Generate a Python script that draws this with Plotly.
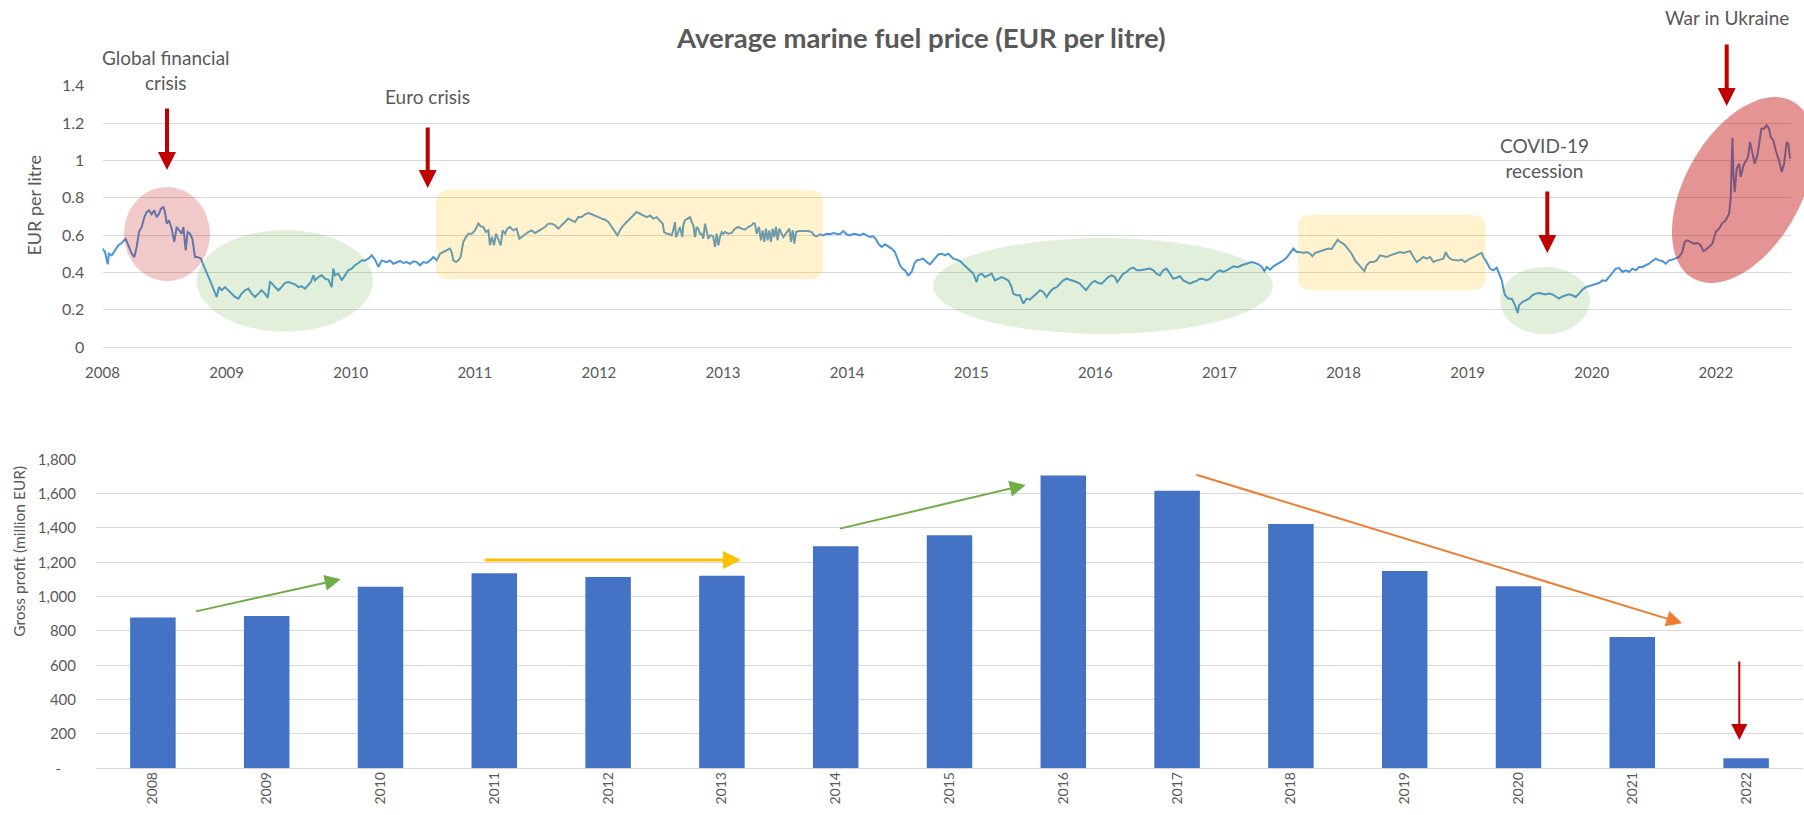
import math
import plotly.graph_objects as go

W, H = 1804, 815

# ---------------- data ----------------
fuel_year = [
    2008.000, 2008.022, 2008.045, 2008.056, 2008.080, 2008.109, 2008.138, 2008.167, 2008.201, 2008.225,
    2008.254, 2008.277, 2008.297, 2008.317, 2008.341, 2008.364, 2008.384, 2008.404, 2008.427, 2008.450,
    2008.471, 2008.491, 2008.508, 2008.529, 2008.543, 2008.558, 2008.578, 2008.601, 2008.624, 2008.645,
    2008.665, 2008.688, 2008.703, 2008.723, 2008.740, 2008.761, 2008.781, 2008.804, 2008.827, 2008.856,
    2008.877, 2008.905, 2008.934, 2008.963, 2008.992, 2009.013, 2009.036, 2009.065, 2009.094, 2009.123,
    2009.152, 2009.181, 2009.210, 2009.239, 2009.268, 2009.297, 2009.326, 2009.355, 2009.383, 2009.412,
    2009.436, 2009.456, 2009.476, 2009.499, 2009.528, 2009.557, 2009.586, 2009.615, 2009.644, 2009.673,
    2009.702, 2009.731, 2009.760, 2009.789, 2009.812, 2009.833, 2009.847, 2009.876, 2009.905, 2009.934,
    2009.963, 2009.992, 2010.006, 2010.021, 2010.050, 2010.079, 2010.108, 2010.137, 2010.166, 2010.195,
    2010.224, 2010.253, 2010.282, 2010.311, 2010.340, 2010.369, 2010.398, 2010.427,
    2010.470, 2010.499, 2010.528, 2010.557, 2010.586, 2010.615, 2010.644, 2010.673, 2010.702, 2010.731,
    2010.760, 2010.789, 2010.818, 2010.847, 2010.876, 2010.905, 2010.934, 2010.962, 2010.991, 2011.020,
    2011.035, 2011.049, 2011.073, 2011.093, 2011.113, 2011.136, 2011.159, 2011.180, 2011.209, 2011.238,
    2011.267, 2011.287, 2011.310, 2011.333, 2011.354, 2011.368, 2011.385, 2011.403, 2011.420, 2011.441,
    2011.461, 2011.478, 2011.499, 2011.519, 2011.542, 2011.571, 2011.600, 2011.623, 2011.643, 2011.672,
    2011.701, 2011.730, 2011.759, 2011.788, 2011.817, 2011.846, 2011.875, 2011.904, 2011.933, 2011.962,
    2011.991, 2012.020, 2012.049, 2012.078, 2012.107, 2012.136, 2012.165, 2012.194, 2012.223, 2012.252,
    2012.281, 2012.310, 2012.339, 2012.368, 2012.397, 2012.426, 2012.455, 2012.475, 2012.498, 2012.527,
    2012.556, 2012.585, 2012.614, 2012.643, 2012.672, 2012.701, 2012.730, 2012.759, 2012.788, 2012.817,
    2012.846, 2012.869, 2012.881, 2012.904,
    2012.918, 2012.947, 2012.961, 2012.976, 2012.985, 2012.999, 2013.019, 2013.040, 2013.048, 2013.063,
    2013.086, 2013.106, 2013.121, 2013.135, 2013.150, 2013.164, 2013.179, 2013.193, 2013.208, 2013.222,
    2013.237, 2013.251, 2013.266, 2013.280, 2013.295, 2013.309, 2013.324, 2013.338, 2013.353, 2013.367,
    2013.382, 2013.396, 2013.411, 2013.440, 2013.468, 2013.497, 2013.526, 2013.555, 2013.584, 2013.613,
    2013.642, 2013.657, 2013.671, 2013.686, 2013.706, 2013.723, 2013.738, 2013.752, 2013.767, 2013.781,
    2013.796, 2013.810, 2013.825, 2013.839, 2013.854, 2013.868, 2013.883, 2013.903, 2013.918, 2013.938,
    2013.955, 2013.970, 2013.984, 2013.999, 2014.013, 2014.028, 2014.048, 2014.077, 2014.106, 2014.135,
    2014.164, 2014.187, 2014.207, 2014.236, 2014.265, 2014.294, 2014.323, 2014.352, 2014.381, 2014.410,
    2014.439, 2014.468, 2014.497, 2014.526, 2014.555, 2014.584, 2014.613, 2014.642, 2014.671, 2014.700,
    2014.720, 2014.743, 2014.772, 2014.801, 2014.830, 2014.859, 2014.888, 2014.911, 2014.932, 2014.952,
    2014.975, 2015.004, 2015.033, 2015.056, 2015.077, 2015.106, 2015.134, 2015.163, 2015.192, 2015.221,
    2015.242, 2015.265, 2015.294, 2015.323, 2015.352, 2015.381,
    2015.395, 2015.424, 2015.453, 2015.482, 2015.511, 2015.540, 2015.569, 2015.598, 2015.612, 2015.641,
    2015.670, 2015.699, 2015.728, 2015.757, 2015.786, 2015.815, 2015.844, 2015.873, 2015.902, 2015.916,
    2015.945, 2015.974, 2016.003, 2016.032, 2016.061, 2016.090, 2016.119, 2016.148, 2016.177, 2016.206,
    2016.235, 2016.264, 2016.293, 2016.322, 2016.351, 2016.380, 2016.409, 2016.438, 2016.467, 2016.496,
    2016.525, 2016.548, 2016.568, 2016.597, 2016.626, 2016.655, 2016.684, 2016.713, 2016.742, 2016.771,
    2016.800, 2016.820, 2016.844, 2016.873, 2016.902, 2016.931, 2016.960, 2016.989, 2017.018, 2017.046,
    2017.075, 2017.104, 2017.133, 2017.162, 2017.191, 2017.220, 2017.249, 2017.278, 2017.307, 2017.336,
    2017.365, 2017.394, 2017.423, 2017.452, 2017.481, 2017.510, 2017.539, 2017.568, 2017.597, 2017.626,
    2017.655, 2017.684, 2017.713, 2017.742, 2017.771, 2017.800, 2017.829, 2017.858,
    2017.873, 2017.902, 2017.931, 2017.960, 2017.989, 2018.018, 2018.047, 2018.076, 2018.099, 2018.119,
    2018.148, 2018.177, 2018.206, 2018.235, 2018.264, 2018.293, 2018.322, 2018.351, 2018.380, 2018.409,
    2018.438, 2018.467, 2018.496, 2018.516, 2018.539, 2018.568, 2018.597, 2018.626, 2018.655, 2018.684,
    2018.713, 2018.736, 2018.757, 2018.777, 2018.800, 2018.829, 2018.858, 2018.887, 2018.916, 2018.945,
    2018.968, 2018.988, 2019.017, 2019.046, 2019.075, 2019.104, 2019.133, 2019.162, 2019.191, 2019.220,
    2019.249, 2019.278, 2019.307, 2019.336, 2019.365, 2019.394, 2019.423, 2019.452, 2019.481, 2019.510,
    2019.539, 2019.568, 2019.597, 2019.626, 2019.655, 2019.675, 2019.698, 2019.727, 2019.756, 2019.785,
    2019.814, 2019.843, 2019.872, 2019.901, 2019.930, 2019.959, 2019.988, 2020.002, 2020.031, 2020.060,
    2020.089, 2020.118, 2020.139, 2020.162, 2020.176, 2020.191, 2020.220, 2020.249, 2020.278, 2020.301,
    2020.312, 2020.341, 2020.370, 2020.399, 2020.428, 2020.457, 2020.486, 2020.515, 2020.544, 2020.573,
    2020.602, 2020.631, 2020.660, 2020.689, 2020.718, 2020.747, 2020.776, 2020.805, 2020.834, 2020.863,
    2020.892, 2020.921, 2020.950, 2020.979, 2021.008, 2021.037, 2021.066, 2021.095, 2021.124, 2021.153,
    2021.182, 2021.211, 2021.240, 2021.269, 2021.298, 2021.327, 2021.356, 2021.385, 2021.413, 2021.442,
    2021.471, 2021.500, 2021.529, 2021.558, 2021.587, 2021.616, 2021.645, 2021.674, 2021.703, 2021.732,
    2021.752, 2021.775, 2021.804, 2021.833, 2021.862, 2021.891, 2021.915, 2021.935, 2021.964, 2021.993,
    2022.022, 2022.051, 2022.080, 2022.109, 2022.138, 2022.152, 2022.167, 2022.175, 2022.187, 2022.204,
    2022.225, 2022.239, 2022.263, 2022.283, 2022.303, 2022.320, 2022.341, 2022.361, 2022.384, 2022.407,
    2022.419, 2022.442, 2022.465, 2022.485, 2022.500, 2022.523, 2022.543, 2022.572, 2022.596, 2022.616,
    2022.639, 2022.653, 2022.668,
]

fuel_price = [
    0.527, 0.509, 0.443, 0.500, 0.491, 0.518, 0.545, 0.557, 0.580, 0.545,
    0.500, 0.482, 0.536, 0.616, 0.643, 0.696, 0.723, 0.732, 0.711, 0.732,
    0.696, 0.714, 0.741, 0.750, 0.723, 0.661, 0.679, 0.634, 0.563, 0.643,
    0.625, 0.607, 0.643, 0.518, 0.616, 0.607, 0.580, 0.482, 0.482, 0.473,
    0.438, 0.393, 0.357, 0.313, 0.268, 0.321, 0.304, 0.321, 0.304, 0.286,
    0.268, 0.259, 0.286, 0.304, 0.313, 0.286, 0.268, 0.286, 0.304, 0.286,
    0.264, 0.348, 0.339, 0.321, 0.304, 0.321, 0.343, 0.348, 0.343, 0.336,
    0.321, 0.325, 0.313, 0.330, 0.348, 0.384, 0.357, 0.375, 0.384, 0.366,
    0.361, 0.321, 0.420, 0.384, 0.393, 0.357, 0.384, 0.411, 0.420, 0.438,
    0.450, 0.464, 0.464, 0.473, 0.491, 0.468, 0.429, 0.464,
    0.455, 0.464, 0.446, 0.455, 0.461, 0.450, 0.455, 0.446, 0.459, 0.455,
    0.438, 0.455, 0.450, 0.464, 0.482, 0.464, 0.500, 0.509, 0.518, 0.527,
    0.509, 0.464, 0.455, 0.464, 0.482, 0.563, 0.589, 0.607, 0.607, 0.625,
    0.661, 0.646, 0.643, 0.616, 0.625, 0.545, 0.589, 0.545, 0.607, 0.571,
    0.545, 0.625, 0.607, 0.634, 0.643, 0.625, 0.634, 0.580, 0.589, 0.607,
    0.616, 0.625, 0.611, 0.621, 0.634, 0.643, 0.661, 0.661, 0.652, 0.634,
    0.652, 0.670, 0.688, 0.679, 0.670, 0.696, 0.696, 0.711, 0.718, 0.711,
    0.705, 0.696, 0.688, 0.682, 0.670, 0.643, 0.616, 0.598, 0.625, 0.652,
    0.670, 0.688, 0.705, 0.723, 0.714, 0.705, 0.696, 0.705, 0.688, 0.696,
    0.679, 0.661, 0.616, 0.607,
    0.607, 0.598, 0.625, 0.670, 0.589, 0.607, 0.643, 0.589, 0.652, 0.679,
    0.688, 0.696, 0.670, 0.652, 0.589, 0.643, 0.634, 0.607, 0.607, 0.580,
    0.661, 0.625, 0.580, 0.598, 0.598, 0.589, 0.536, 0.607, 0.545, 0.589,
    0.616, 0.607, 0.616, 0.607, 0.611, 0.634, 0.643, 0.634, 0.629, 0.643,
    0.652, 0.664, 0.661, 0.607, 0.643, 0.571, 0.625, 0.563, 0.634, 0.571,
    0.625, 0.563, 0.634, 0.589, 0.643, 0.571, 0.634, 0.607, 0.589, 0.607,
    0.625, 0.634, 0.563, 0.625, 0.554, 0.616, 0.621, 0.621, 0.625, 0.621,
    0.616, 0.598, 0.593, 0.604, 0.598, 0.607, 0.604, 0.611, 0.607, 0.604,
    0.621, 0.604, 0.598, 0.607, 0.604, 0.598, 0.607, 0.598, 0.589, 0.593,
    0.580, 0.554, 0.536, 0.550, 0.539, 0.527, 0.509, 0.473, 0.438, 0.420,
    0.411, 0.384, 0.402, 0.446, 0.464, 0.468, 0.473, 0.455, 0.443, 0.464,
    0.482, 0.496, 0.500, 0.491, 0.500, 0.482,
    0.473, 0.468, 0.461, 0.443, 0.425, 0.411, 0.393, 0.348, 0.384, 0.393,
    0.375, 0.384, 0.393, 0.357, 0.366, 0.375, 0.366, 0.357, 0.321, 0.286,
    0.277, 0.277, 0.232, 0.259, 0.254, 0.268, 0.286, 0.304, 0.295, 0.268,
    0.295, 0.313, 0.321, 0.339, 0.357, 0.366, 0.361, 0.357, 0.348, 0.339,
    0.321, 0.304, 0.321, 0.343, 0.354, 0.343, 0.339, 0.357, 0.375, 0.384,
    0.375, 0.348, 0.366, 0.393, 0.402, 0.420, 0.425, 0.411, 0.411, 0.414,
    0.414, 0.420, 0.411, 0.393, 0.384, 0.411, 0.420, 0.393, 0.366, 0.371,
    0.379, 0.357, 0.348, 0.339, 0.348, 0.354, 0.366, 0.364, 0.357, 0.366,
    0.384, 0.402, 0.411, 0.402, 0.411, 0.420, 0.432, 0.429,
    0.429, 0.438, 0.443, 0.450, 0.455, 0.450, 0.443, 0.429, 0.407, 0.429,
    0.414, 0.432, 0.443, 0.450, 0.464, 0.479, 0.500, 0.527, 0.509, 0.509,
    0.504, 0.509, 0.500, 0.486, 0.504, 0.509, 0.514, 0.521, 0.527, 0.525,
    0.554, 0.575, 0.563, 0.557, 0.545, 0.521, 0.500, 0.464, 0.443, 0.420,
    0.407, 0.438, 0.455, 0.455, 0.464, 0.491, 0.486, 0.482, 0.491, 0.496,
    0.500, 0.509, 0.504, 0.509, 0.514, 0.482, 0.455, 0.468, 0.482, 0.473,
    0.482, 0.455, 0.464, 0.468, 0.473, 0.509, 0.482, 0.468, 0.464, 0.464,
    0.468, 0.455, 0.468, 0.479, 0.486, 0.496, 0.504, 0.482, 0.455, 0.420,
    0.411, 0.425, 0.393, 0.357, 0.313, 0.277, 0.259, 0.259, 0.223, 0.182,
    0.223, 0.241, 0.250, 0.259, 0.277, 0.286, 0.289, 0.286, 0.282, 0.286,
    0.282, 0.271, 0.259, 0.271, 0.277, 0.282, 0.277, 0.268, 0.286, 0.307,
    0.321, 0.327, 0.330, 0.336, 0.343, 0.357, 0.354, 0.375, 0.396, 0.420,
    0.423, 0.402, 0.411, 0.402, 0.420, 0.411, 0.429, 0.429, 0.438, 0.446,
    0.461, 0.473, 0.464, 0.461, 0.446, 0.464, 0.468, 0.473, 0.482, 0.509,
    0.563, 0.571, 0.563, 0.554, 0.557, 0.545, 0.514, 0.521, 0.536, 0.554,
    0.616, 0.634, 0.664, 0.679, 0.714, 0.795, 1.121, 0.929, 0.830, 0.955,
    0.982, 0.911, 0.973, 1.000, 1.018, 1.098, 1.036, 0.982, 1.027, 1.107,
    1.170, 1.170, 1.188, 1.170, 1.125, 1.107, 1.054, 1.000, 0.938, 0.982,
    1.098, 1.089, 1.009,
]

price_axis_labels = ["2008", "2009", "2010", "2011", "2012", "2013", "2014",
                     "2015", "2016", "2017", "2018", "2019", "2020", "2022"]
price_ticks = [0, 0.2, 0.4, 0.6, 0.8, 1.0, 1.2, 1.4]
price_tick_text = ["0", "0.2", "0.4", "0.6", "0.8", "1", "1.2", "1.4"]

profit_years = ["2008", "2009", "2010", "2011", "2012", "2013", "2014", "2015",
                "2016", "2017", "2018", "2019", "2020", "2021", "2022"]
gross_profit = [878, 887, 1058, 1136, 1115, 1122, 1293, 1357,
                1705, 1617, 1423, 1150, 1060, 765, 58]
profit_ticks = [0, 200, 400, 600, 800, 1000, 1200, 1400, 1600, 1800]
profit_tick_text = ["-\u2002\u2002", "200", "400", "600", "800", "1,000",
                    "1,200", "1,400", "1,600", "1,800"]

# ---------------- helpers (pixel -> paper) ----------------
def px(x):
    return x / W

def py(y):
    return 1 - y / H

FONT = "Lato, 'Open Sans', sans-serif"
GREY = "#595959"
GRID = "#D9D9D9"

# tick positions of the top date axis (every 394 days from 2008-01-01)
top_tickvals = [2008 + i * 394 / 365.25 for i in range(len(price_axis_labels))]

fig = go.Figure()

fig.add_trace(go.Scatter(
    x=fuel_year, y=fuel_price, mode="lines",
    line=dict(color="#4C94D6", width=2),
    xaxis="x", yaxis="y", showlegend=False, hoverinfo="x+y",
))

fig.add_trace(go.Bar(
    x=profit_years, y=gross_profit,
    marker=dict(color="#4472C4", line=dict(width=0)),
    xaxis="x2", yaxis="y2", showlegend=False,
))

X_RIGHT = 1791
x_end = 2008 + (X_RIGHT - 102.5) / 115.05

fig.update_layout(
    width=W, height=H, autosize=False,
    margin=dict(l=0, r=0, t=0, b=0),
    paper_bgcolor="white", plot_bgcolor="white",
    font=dict(family=FONT, color=GREY),
    bargap=0.6,
    xaxis=dict(
        domain=[px(102.5), px(X_RIGHT)], range=[2008, x_end], anchor="y",
        showgrid=False, zeroline=False, showline=False,
        tickvals=top_tickvals, ticktext=price_axis_labels,
        ticks="outside", ticklen=12, tickcolor="rgba(0,0,0,0)",
        tickfont=dict(size=15, color=GREY), automargin=False,
    ),
    yaxis=dict(
        domain=[py(347), py(85.7)], range=[0, 1.4], anchor="x",
        showgrid=True, gridcolor=GRID, gridwidth=1.3,
        zeroline=True, zerolinecolor=GRID, zerolinewidth=1.3, showline=False,
        tickvals=price_ticks, ticktext=price_tick_text,
        ticks="outside", ticklen=14, tickcolor="rgba(0,0,0,0)",
        tickfont=dict(size=16, color=GREY), automargin=False,
    ),
    xaxis2=dict(
        domain=[px(96), px(1803)], anchor="y2", type="category",
        showgrid=False, zeroline=False, showline=False,
        tickangle=-90, ticks="", ticklen=0,
        tickfont=dict(size=14, color=GREY), automargin=False,
    ),
    yaxis2=dict(
        domain=[py(768.3), py(459.3)], range=[0, 1800], anchor="x2",
        showgrid=True, gridcolor=GRID, gridwidth=1.3,
        zeroline=True, zerolinecolor=GRID, zerolinewidth=1.3, showline=False,
        tickvals=profit_ticks, ticktext=profit_tick_text,
        ticks="outside", ticklen=16, tickcolor="rgba(0,0,0,0)",
        tickfont=dict(size=15, color=GREY), automargin=False,
    ),
)

shapes = []

def ellipse(x0, y0, x1, y1, color):
    shapes.append(dict(type="circle", xref="paper", yref="paper",
                       x0=px(x0), x1=px(x1), y0=py(y1), y1=py(y0),
                       fillcolor=color, line=dict(width=0), layer="above"))

def rounded_rect(x0, y0, x1, y1, r, color):
    pts = (
        f"M {px(x0 + r)},{py(y0)} L {px(x1 - r)},{py(y0)} "
        f"Q {px(x1)},{py(y0)} {px(x1)},{py(y0 + r)} "
        f"L {px(x1)},{py(y1 - r)} Q {px(x1)},{py(y1)} {px(x1 - r)},{py(y1)} "
        f"L {px(x0 + r)},{py(y1)} Q {px(x0)},{py(y1)} {px(x0)},{py(y1 - r)} "
        f"L {px(x0)},{py(y0 + r)} Q {px(x0)},{py(y0)} {px(x0 + r)},{py(y0)} Z"
    )
    shapes.append(dict(type="path", xref="paper", yref="paper", path=pts,
                       fillcolor=color, line=dict(width=0), layer="above"))

def rotated_ellipse(cx, cy, a, b, angle_deg, color, n=90):
    th = math.radians(angle_deg)
    ux, uy = math.cos(th), -math.sin(th)
    vx, vy = math.sin(th), math.cos(th)
    parts = []
    for i in range(n):
        t = 2 * math.pi * i / n
        x = cx + a * math.cos(t) * ux + b * math.sin(t) * vx
        y = cy + a * math.cos(t) * uy + b * math.sin(t) * vy
        parts.append(("M" if i == 0 else "L") + f" {px(x):.5f},{py(y):.5f}")
    shapes.append(dict(type="path", xref="paper", yref="paper",
                       path=" ".join(parts) + " Z",
                       fillcolor=color, line=dict(width=0), layer="above"))

PINK = "rgba(192,0,0,0.21)"
RED = "rgba(192,0,0,0.42)"
GREEN = "rgba(112,173,71,0.2)"
YELLOW = "rgba(255,192,0,0.2)"

ellipse(124, 187, 210, 281, PINK)
ellipse(196.7, 230, 373, 331.7, GREEN)
rounded_rect(436, 190, 822.7, 279.3, 13, YELLOW)
ellipse(933, 238, 1273, 334, GREEN)
rounded_rect(1297.7, 215, 1485.7, 290, 13, YELLOW)
ellipse(1500, 266.7, 1590, 334.3, GREEN)
rotated_ellipse(1743, 190, 101.6, 58, 60.6, RED)

fig.update_layout(shapes=shapes)

annotations = []

def text(x, y, s, size=18, bold=False, angle=0):
    annotations.append(dict(
        x=px(x), y=py(y), xref="paper", yref="paper", text=f"<b>{s}</b>" if bold else s,
        showarrow=False, xanchor="center", yanchor="middle", textangle=angle,
        font=dict(family=FONT, size=size, color=GREY),
    ))

def arrow(x0, y0, x1, y1, color, width, head=2, size=1.0):
    annotations.append(dict(
        x=px(x1), y=py(y1), xref="paper", yref="paper",
        ax=x0 - x1, ay=y0 - y1, axref="pixel", ayref="pixel",
        text="", showarrow=True, arrowhead=head, arrowsize=size,
        arrowwidth=width, arrowcolor=color, standoff=0, startstandoff=0,
    ))

text(921, 38, "Average marine fuel price (EUR per litre)", size=27.5, bold=True)
text(166, 70, "Global financial<br>crisis", size=19)
text(427.5, 97, "Euro crisis", size=19)
text(1544, 158, "COVID-19<br>recession", size=19)
text(1727, 18, "War in Ukraine", size=19)
text(34, 205.6, "EUR per litre", size=18, angle=-90)
text(19, 551.7, "Gross profit (million EUR)", size=15.5, angle=-90)

DARKRED = "#C00000"
arrow(167, 107, 167, 170, DARKRED, 4, head=2, size=0.9)
arrow(427.7, 126, 427.7, 188, DARKRED, 4, head=2, size=0.9)
arrow(1547.3, 190, 1547.3, 253, DARKRED, 4, head=2, size=0.9)
arrow(1726.7, 43, 1726.7, 106, DARKRED, 4, head=2, size=0.9)

arrow(194.5, 611.7, 340.7, 579.3, "#70AD47", 2, head=2, size=1.6)
arrow(483, 560, 741, 560, "#FFC000", 3, head=2, size=1.2)
arrow(838.3, 529, 1025.7, 485, "#70AD47", 2, head=2, size=1.6)
arrow(1194.9, 474.3, 1682.3, 623.3, "#ED7D31", 2, head=2, size=1.6)
arrow(1739.3, 660, 1739.3, 740, DARKRED, 2, head=2, size=1.6)

fig.update_layout(annotations=annotations)

fig.write_html(
    "out.html",
    config={"displayModeBar": False},
    post_script="document.body.style.margin='0px';document.body.style.overflow='hidden';",
)
